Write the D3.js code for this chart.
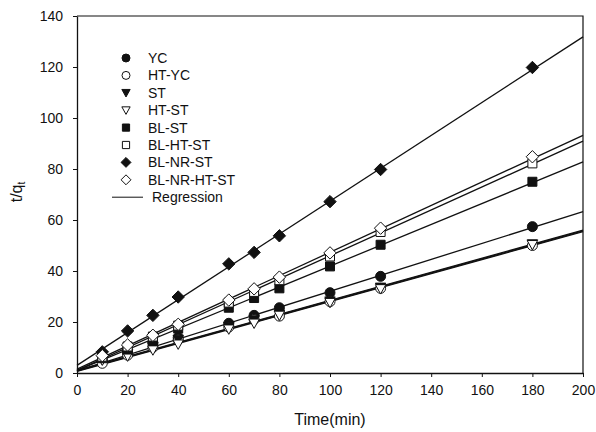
<!DOCTYPE html>
<html>
<head>
<meta charset="utf-8">
<script src="https://cdn.jsdelivr.net/npm/d3@7"></script>
<style>
  html, body { margin: 0; padding: 0; background: #fff; }
  svg { display: block; font-family: "Liberation Sans", Arial, sans-serif; }
</style>
</head>
<body>
<svg id="chart" width="596" height="432"></svg>
<script>
// ── Data ────────────────────────────────────────────────────────────────────
const time = [10, 20, 30, 40, 60, 70, 80, 100, 120, 180];

const YC          = [5.0, 8.0, 11.7, 13.9, 19.5, 22.6, 25.6, 31.5, 37.9, 57.4];
const HT_YC       = [3.8, 7.0, 10.0, 13.0, 18.0, 21.0, 22.3, 28.0, 33.2, 50.0];
const ST          = [5.2, 7.6, 10.3, 13.2, 18.2, 20.8, 23.0, 28.2, 33.6, 50.6];
const HT_ST       = [5.0, 6.6, 9.0, 11.3, 17.2, 19.5, 22.6, 27.6, 33.0, 50.3];
const BL_ST       = [5.8, 9.2, 12.6, 17.4, 25.6, 29.4, 33.2, 41.8, 50.3, 75.0];
const BL_HT_ST    = [6.4, 10.4, 14.3, 18.6, 27.6, 31.8, 36.4, 45.7, 55.3, 82.2];
const BL_NR_ST    = [8.3, 16.5, 22.6, 29.8, 42.8, 47.3, 53.8, 67.2, 79.8, 119.8];
const BL_NR_HT_ST = [6.8, 11.0, 14.8, 19.1, 28.6, 33.0, 37.6, 47.1, 56.8, 84.8];

// regression line values at t = 0 and t = 200
const regStart = [0.8, 0.6, 1.0, 0.8, 1.0, 1.0, 3.0, 1.5];
const regEnd   = [63.3, 55.4, 56.0, 55.7, 82.8, 90.9, 131.8, 93.2];

const names   = ["YC", "HT-YC", "ST", "HT-ST", "BL-ST", "BL-HT-ST", "BL-NR-ST", "BL-NR-HT-ST"];
const shapes  = ["circle", "circle", "triangle", "triangle", "square", "square", "diamond", "diamond"];
const filled  = [true, false, true, false, true, false, true, false];
const seriesY = [YC, HT_YC, ST, HT_ST, BL_ST, BL_HT_ST, BL_NR_ST, BL_NR_HT_ST];

const xTicks = [0, 20, 40, 60, 80, 100, 120, 140, 160, 180, 200];
const yTicks = [0, 20, 40, 60, 80, 100, 120, 140];

// ── Setup ───────────────────────────────────────────────────────────────────
const svg = d3.select("#chart");
const L = 77, R = 583, T = 16, B = 373;
const ink = "#111";

const x = d3.scaleLinear().domain([0, 200]).range([L, R]);
const y = d3.scaleLinear().domain([0, 140]).range([B, T]);

// marker path, centred on 0,0
function markerPath(shape, s) {
    const p = d3.path();
    if (shape === "circle") {
        p.arc(0, 0, s * 0.5, 0, 2 * Math.PI);
    } else if (shape === "square") {
        const h = s * 0.45;
        p.rect(-h, -h, 2 * h, 2 * h);
    } else if (shape === "diamond") {
        const h = s * 0.62;
        p.moveTo(0, -h); p.lineTo(h, 0); p.lineTo(0, h); p.lineTo(-h, 0); p.closePath();
    } else { // triangle pointing down
        const w = s * 0.52;
        p.moveTo(-w, -s * 0.42); p.lineTo(w, -s * 0.42); p.lineTo(0, s * 0.52); p.closePath();
    }
    return p.toString();
}

// ── Axes ────────────────────────────────────────────────────────────────────
const xAxis = svg.append("g").attr("transform", `translate(0,${B})`)
    .call(d3.axisBottom(x).tickValues(xTicks).tickSize(4).tickPadding(8).tickSizeOuter(0));
const yAxis = svg.append("g").attr("transform", `translate(${L},0)`)
    .call(d3.axisLeft(y).tickValues(yTicks).tickSize(4).tickPadding(10).tickSizeOuter(0));

[xAxis, yAxis].forEach(g => {
    g.select(".domain").attr("stroke", ink).attr("stroke-width", 1.3);
    g.selectAll(".tick line").attr("stroke", ink).attr("stroke-width", 1);
    g.selectAll(".tick text").attr("fill", ink).attr("font-size", 14)
        .attr("font-family", "Liberation Sans, Arial, sans-serif");
});

// frame (top + right)
svg.append("path")
    .attr("d", `M${L},${T}H${R}V${B}`)
    .attr("fill", "none").attr("stroke", ink).attr("stroke-width", 1.2);

// ── Regression lines ───────────────────────────────────────────────────────
const line = d3.line().x(d => x(d[0])).y(d => y(d[1]));
names.forEach((n, i) => {
    svg.append("path")
        .datum([[0, regStart[i]], [200, regEnd[i]]])
        .attr("d", line)
        .attr("fill", "none").attr("stroke", ink).attr("stroke-width", 1.3);
});

// ── Points ─────────────────────────────────────────────────────────────────
names.forEach((n, i) => {
    svg.append("g").selectAll("path")
        .data(time.map((t, k) => [t, seriesY[i][k]]))
        .join("path")
        .attr("transform", d => `translate(${x(d[0])},${y(d[1])})`)
        .attr("d", markerPath(shapes[i], 10))
        .attr("fill", filled[i] ? ink : "#fff")
        .attr("stroke", ink).attr("stroke-width", 1);
});

// ── Legend ─────────────────────────────────────────────────────────────────
const legY0 = 58, legStep = 17.4;
names.forEach((n, i) => {
    const ly = legY0 + i * legStep;
    svg.append("path")
        .attr("transform", `translate(126,${ly})`)
        .attr("d", markerPath(shapes[i], 8))
        .attr("fill", filled[i] ? ink : "#fff")
        .attr("stroke", ink).attr("stroke-width", 1);
    svg.append("text")
        .attr("x", 148).attr("y", ly).attr("dy", "0.36em")
        .attr("font-size", 14).attr("fill", ink).text(n);
});
const regY = legY0 + names.length * legStep;
svg.append("line").attr("x1", 112).attr("x2", 143).attr("y1", regY).attr("y2", regY)
    .attr("stroke", ink).attr("stroke-width", 1);
svg.append("text").attr("x", 152).attr("y", regY).attr("dy", "0.36em")
    .attr("font-size", 14).attr("fill", ink).text("Regression");

// ── Axis titles ────────────────────────────────────────────────────────────
svg.append("text")
    .attr("x", 330).attr("y", 425)
    .attr("text-anchor", "middle").attr("font-size", 16).attr("fill", ink)
    .text("Time(min)");

const yt = svg.append("text")
    .attr("transform", "translate(22,192) rotate(-90)")
    .attr("text-anchor", "middle").attr("font-size", 16).attr("fill", ink);
yt.append("tspan").text("t/q");
yt.append("tspan").attr("font-size", 10).attr("dy", 3).text("t");
</script>
</body>
</html>
